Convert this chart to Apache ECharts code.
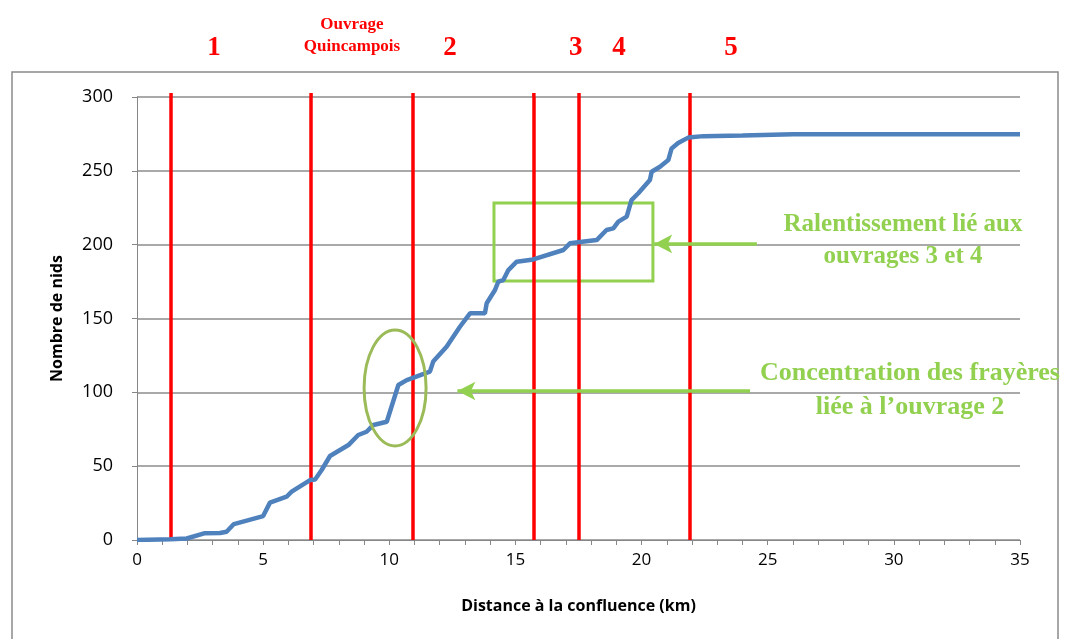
<!DOCTYPE html>
<html><head><meta charset="utf-8">
<script src="https://cdn.jsdelivr.net/npm/echarts@6/dist/echarts.min.js"></script>
<style>html,body{margin:0;padding:0;background:#fff}#c{width:1066px;height:639px}</style>
</head><body><div id="c"></div>
<script>
// Data
const distanceKm = [0,1.33,1.97,2.66,3.29,3.55,3.84,5.0,5.27,5.93,6.13,6.86,7.06,7.32,7.65,8.38,8.77,9.10,9.37,9.9,10.36,10.69,11.61,11.74,12.27,12.8,13.2,13.79,13.86,14.19,14.32,14.52,14.72,15.05,15.71,16.9,17.16,18.22,18.61,18.88,19.08,19.41,19.6,19.87,20.33,20.4,20.73,21.06,21.19,21.45,21.85,22.45,24,26,35];
const nests = [0,0.5,1,4.5,4.7,5.6,10.8,16.2,25.3,29.3,32.7,40.6,41,47.4,56.9,64.3,71.1,73.3,77.9,80.1,105,108.3,114,120.8,130.9,144.4,153.5,153.5,160.3,169.3,174.9,176,182.8,188.5,190,196.4,200.9,203.1,209.9,211,215.6,219,230.2,234.8,243.8,249.4,252.8,257.3,265.2,268.8,272.5,273.5,274,274.7,274.7];
const structureKm = [1.35,6.9,10.94,15.73,17.52,21.92];
const structureLabels = ['1','','2','3','4','5'];
const xTicks = [0,5,10,15,20,25,30,35];
const yTicks = [0,50,100,150,200,250,300];

const chart = echarts.init(document.getElementById('c'));
const green = '#92D050';
const serif = '"Liberation Serif","DejaVu Serif",serif';
const sans = '"Open Sans","Liberation Sans",sans-serif';

chart.setOption({
  animation:false,
  grid:{left:137,right:46,top:97,bottom:99},
  xAxis:{type:'value',min:0,max:35,interval:1,
    name:'Distance à la confluence (km)',nameLocation:'middle',nameGap:58,
    nameTextStyle:{fontFamily:sans,fontWeight:'bold',fontSize:16,color:'#000'},
    axisLine:{lineStyle:{color:'#868686',width:1}},
    axisTick:{show:true,length:5,lineStyle:{color:'#868686'}},
    axisLabel:{fontFamily:sans,fontSize:17,color:'#000',margin:12,
      formatter:v=>xTicks.indexOf(v)>=0?String(v):''},
    splitLine:{show:false}},
  yAxis:{type:'value',min:0,max:300,interval:50,
    name:'Nombre de nids',nameLocation:'middle',nameGap:72,
    nameTextStyle:{fontFamily:sans,fontWeight:'bold',fontSize:16,color:'#000'},
    axisLine:{show:true,lineStyle:{color:'#868686',width:1}},
    axisTick:{show:true,length:5,lineStyle:{color:'#868686'}},
    axisLabel:{fontFamily:sans,fontSize:18,color:'#000',margin:24,
      formatter:v=>yTicks.indexOf(v)>=0?String(v):''},
    splitLine:{show:true,lineStyle:{color:'#8c8c8c',width:1.5}}},
  series:[
    {type:'line',data:distanceKm.map((d,i)=>[d,nests[i]]),showSymbol:false,symbol:'none',
      lineStyle:{color:'#4F81BD',width:4.5},z:5,
      markArea:{silent:true,itemStyle:{color:'rgba(0,0,0,0)',borderColor:green,borderWidth:3},
        data:[[{coord:[14.15,228.2]},{coord:[20.45,175.4]}]]}
    },
    {type:'line',data:[],z:7,
      markLine:{silent:true,symbol:['none','none'],
        lineStyle:{color:'#FF0000',width:3.5,type:'solid'},label:{show:false},
        data:structureKm.map(k=>[{coord:[k,0]},{coord:[k,300]}])}
    },
    {type:'line',data:[],z:6,
      markLine:{silent:true,symbol:['none','arrow'],symbolSize:[14,18],
        lineStyle:{color:green,width:3.5,type:'solid'},label:{show:false},
        data:[[{coord:[24.57,200.5]},{coord:[20.5,200.5]}],[{coord:[24.3,100.9]},{coord:[12.7,100.9]}]]}
    }
  ]
});

function px(x,y){return chart.convertToPixel({gridIndex:0},[x,y]);}
const g=[];
g.push({type:'rect',shape:{x:12,y:72,width:1046,height:600},style:{fill:'none',stroke:'#8a8a8a',lineWidth:1.5},silent:true,z:0});
structureKm.forEach((k,i)=>{
  const p0=px(k,300);
  g.push({type:'line',shape:{x1:p0[0],y1:p0[1],x2:p0[0],y2:p0[1]-4},style:{stroke:'#FF0000',lineWidth:3.5},z:10});
});
structureLabels.forEach((t,i)=>{ if(!t) return;
  const offs=[43,0,37,42,40,41];
  const p=px(structureKm[i],300);
  g.push({type:'text',x:p[0]+offs[i],y:48,style:{text:t,fill:'#FF0000',font:'bold 27px '+serif,textAlign:'center',textVerticalAlign:'middle'},z:10});
});
g.push({type:'text',x:352,y:36,style:{text:'Ouvrage\nQuincampois',fill:'#FF0000',font:'bold 17px '+serif,textAlign:'center',textVerticalAlign:'middle',lineHeight:22},z:10});
const ec=px(10.23,103);
g.push({type:'ellipse',shape:{cx:ec[0],cy:ec[1],rx:31,ry:58},style:{fill:'none',stroke:'#9BBB59',lineWidth:3},z:10});
g.push({type:'text',x:903,y:241,style:{text:'Ralentissement lié aux\nouvrages 3 et 4',fill:green,font:'bold 25px '+serif,textAlign:'center',textVerticalAlign:'middle',lineHeight:32},z:10});
g.push({type:'text',x:910,y:390,style:{text:'Concentration des frayères\nliée à l’ouvrage 2',fill:green,font:'bold 26px '+serif,textAlign:'center',textVerticalAlign:'middle',lineHeight:34},z:10});
chart.setOption({graphic:{elements:g}});
</script></body></html>
